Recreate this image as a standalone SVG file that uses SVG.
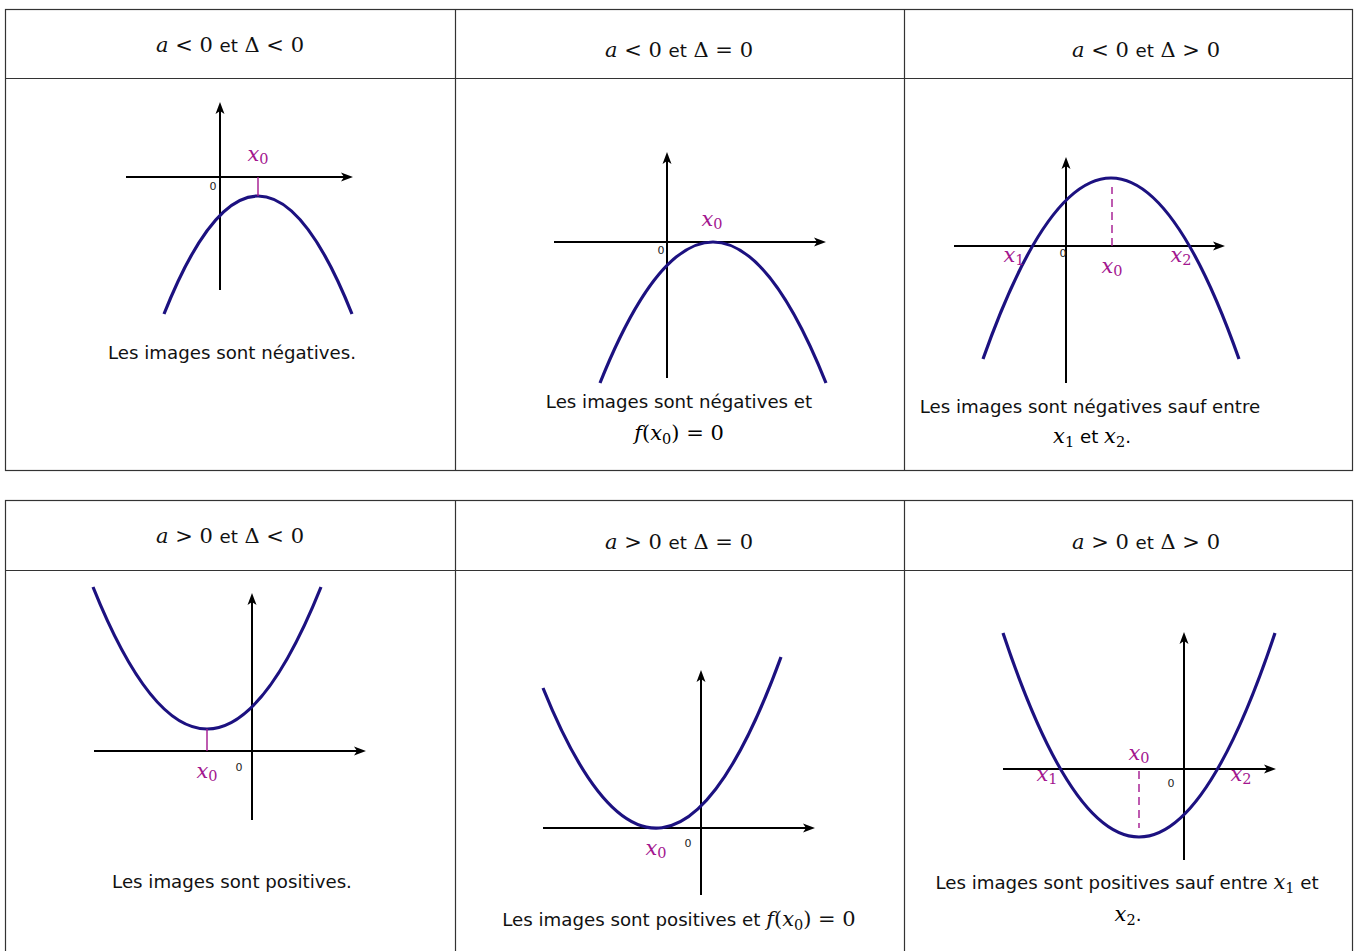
<svg xmlns="http://www.w3.org/2000/svg" width="1357" height="951" viewBox="0 0 1357 951">
<style>
.cell{fill:none;stroke:#333;stroke-width:1.2}
.axis{stroke:#000;stroke-width:2;fill:none;marker-end:url(#arr)}
.curve{stroke:#1c1180;stroke-width:3.2;fill:none}
.tick{stroke:#a3168f;stroke-width:1.4}
.dash{stroke:#a3168f;stroke-width:1.4;stroke-dasharray:8 5}
.lbl{font-family:"DejaVu Serif",serif;font-style:italic;font-size:21px;fill:#a3168f}
.zero{font-family:"DejaVu Sans",sans-serif;font-size:11px;fill:#222}
.cap{font-family:"DejaVu Sans",sans-serif;font-size:18.2px;fill:#111}
.hdr{font-family:"DejaVu Serif",serif;font-size:21px;fill:#111}
.m{font-family:"DejaVu Serif",serif;font-size:21px}
.i{font-style:italic}
.s{font-size:14.5px;font-style:normal}
.sans{font-family:"DejaVu Sans",sans-serif;font-size:18.2px;font-style:normal}
</style>
<defs>
<marker id="arr" viewBox="0 0 12 12" refX="9" refY="6" markerWidth="12" markerHeight="12" markerUnits="userSpaceOnUse" orient="auto">
<path d="M0,1.5 L12,6 L0,10.5 L3,6 z" fill="#000"/>
</marker>
</defs>
<rect width="1357" height="951" fill="#fff"/>
<g id="table-top">
<rect class="cell" x="5.5" y="9.5" width="1347" height="461"/>
<line class="cell" x1="5.5" y1="78.5" x2="1352.5" y2="78.5"/>
<line class="cell" x1="455.5" y1="9.5" x2="455.5" y2="470.5"/>
<line class="cell" x1="904.5" y1="9.5" x2="904.5" y2="470.5"/>
</g>
<g id="table-bottom">
<rect class="cell" x="5.5" y="500.5" width="1347" height="460"/>
<line class="cell" x1="5.5" y1="570.5" x2="1352.5" y2="570.5"/>
<line class="cell" x1="455.5" y1="500.5" x2="455.5" y2="951"/>
<line class="cell" x1="904.5" y1="500.5" x2="904.5" y2="951"/>
</g>
<g id="headers">
<text class="hdr" x="230" y="52" text-anchor="middle"><tspan class="i">a</tspan> &lt; 0 <tspan class="sans">et</tspan> Δ &lt; 0</text>
<text class="hdr" x="679" y="57" text-anchor="middle"><tspan class="i">a</tspan> &lt; 0 <tspan class="sans">et</tspan> Δ = 0</text>
<text class="hdr" x="1146" y="57" text-anchor="middle"><tspan class="i">a</tspan> &lt; 0 <tspan class="sans">et</tspan> Δ &gt; 0</text>
<text class="hdr" x="230" y="543" text-anchor="middle"><tspan class="i">a</tspan> &gt; 0 <tspan class="sans">et</tspan> Δ &lt; 0</text>
<text class="hdr" x="679" y="549" text-anchor="middle"><tspan class="i">a</tspan> &gt; 0 <tspan class="sans">et</tspan> Δ = 0</text>
<text class="hdr" x="1146" y="549" text-anchor="middle"><tspan class="i">a</tspan> &gt; 0 <tspan class="sans">et</tspan> Δ &gt; 0</text>
</g>
<g id="connectors">
<path class="axis" d="M126,177 H350"/><path class="axis" d="M220,290 V105"/>
<path class="axis" d="M554,242 H823"/><path class="axis" d="M667,378 V155"/>
<path class="axis" d="M954,246 H1222"/><path class="axis" d="M1066,383 V160"/>
<path class="axis" d="M94,751 H363"/><path class="axis" d="M252,820 V596"/>
<path class="axis" d="M543,828 H812"/><path class="axis" d="M701,895 V673"/>
<path class="axis" d="M1003,769 H1273"/><path class="axis" d="M1184,860 V635"/>
</g>
<g id="graph1">
<path class="curve" d="M164,314 Q258,78 352,314"/>
<line class="tick" x1="258" y1="177" x2="258" y2="196"/>
<text class="lbl" x="258" y="161" text-anchor="middle">x<tspan class="s" dy="3">0</tspan></text>
<text class="zero" x="213" y="190" text-anchor="middle">0</text>
<text class="cap" x="232" y="359" text-anchor="middle">Les images sont négatives.</text>
</g>
<g id="graph2">
<path class="curve" d="M600,383 Q713,101 826,383"/>
<text class="lbl" x="712" y="226" text-anchor="middle">x<tspan class="s" dy="3">0</tspan></text>
<text class="zero" x="661" y="254" text-anchor="middle">0</text>
<text class="cap" x="679" y="408" text-anchor="middle">Les images sont négatives et</text>
<text class="m" x="679" y="440" text-anchor="middle"><tspan class="i">f</tspan>(<tspan class="i">x</tspan><tspan class="s" dy="4">0</tspan><tspan dy="-4">) = 0</tspan></text>
</g>
<g id="graph3">
<path class="curve" d="M983,359 Q1111,-3 1239,359"/>
<line class="dash" x1="1112" y1="246" x2="1112" y2="187"/>
<text class="lbl" x="1014" y="262" text-anchor="middle">x<tspan class="s" dy="3">1</tspan></text>
<text class="lbl" x="1112" y="273" text-anchor="middle">x<tspan class="s" dy="3">0</tspan></text>
<text class="lbl" x="1181" y="262" text-anchor="middle">x<tspan class="s" dy="3">2</tspan></text>
<text class="zero" x="1063" y="257" text-anchor="middle">0</text>
<text class="cap" x="1090" y="413" text-anchor="middle">Les images sont négatives sauf entre</text>
<text class="m" x="1092" y="443" text-anchor="middle"><tspan class="i">x</tspan><tspan class="s" dy="4">1</tspan><tspan class="sans" dy="-4"> et </tspan><tspan class="i">x</tspan><tspan class="s" dy="4">2</tspan><tspan class="sans" dy="-4">.</tspan></text>
</g>
<g id="graph4">
<path class="curve" d="M93,587 Q207,871 321,587"/>
<line class="tick" x1="207" y1="729" x2="207" y2="751"/>
<text class="lbl" x="207" y="778" text-anchor="middle">x<tspan class="s" dy="3">0</tspan></text>
<text class="zero" x="239" y="771" text-anchor="middle">0</text>
<text class="cap" x="232" y="888" text-anchor="middle">Les images sont positives.</text>
</g>
<g id="graph5">
<path class="curve" d="M543,688 Q662,983 781,657"/>
<text class="lbl" x="656" y="855" text-anchor="middle">x<tspan class="s" dy="3">0</tspan></text>
<text class="zero" x="688" y="847" text-anchor="middle">0</text>
<text class="cap" x="679" y="926" text-anchor="middle">Les images sont positives et <tspan class="m i">f</tspan><tspan class="m">(</tspan><tspan class="m i">x</tspan><tspan class="m s" dy="4">0</tspan><tspan class="m" dy="-4">) = 0</tspan></text>
</g>
<g id="graph6">
<path class="curve" d="M1003,633 Q1139,1041 1275,633"/>
<line class="dash" x1="1139" y1="771" x2="1139" y2="828"/>
<text class="lbl" x="1139" y="760" text-anchor="middle">x<tspan class="s" dy="3">0</tspan></text>
<text class="lbl" x="1047" y="781" text-anchor="middle">x<tspan class="s" dy="3">1</tspan></text>
<text class="lbl" x="1241" y="781" text-anchor="middle">x<tspan class="s" dy="3">2</tspan></text>
<text class="zero" x="1171" y="787" text-anchor="middle">0</text>
<text class="cap" x="1127" y="889" text-anchor="middle">Les images sont positives sauf entre <tspan class="m i">x</tspan><tspan class="m s" dy="4">1</tspan><tspan dy="-4"> et</tspan></text>
<text class="m" x="1128" y="921" text-anchor="middle"><tspan class="i">x</tspan><tspan class="s" dy="4">2</tspan><tspan class="sans" dy="-4">.</tspan></text>
</g>
</svg>
